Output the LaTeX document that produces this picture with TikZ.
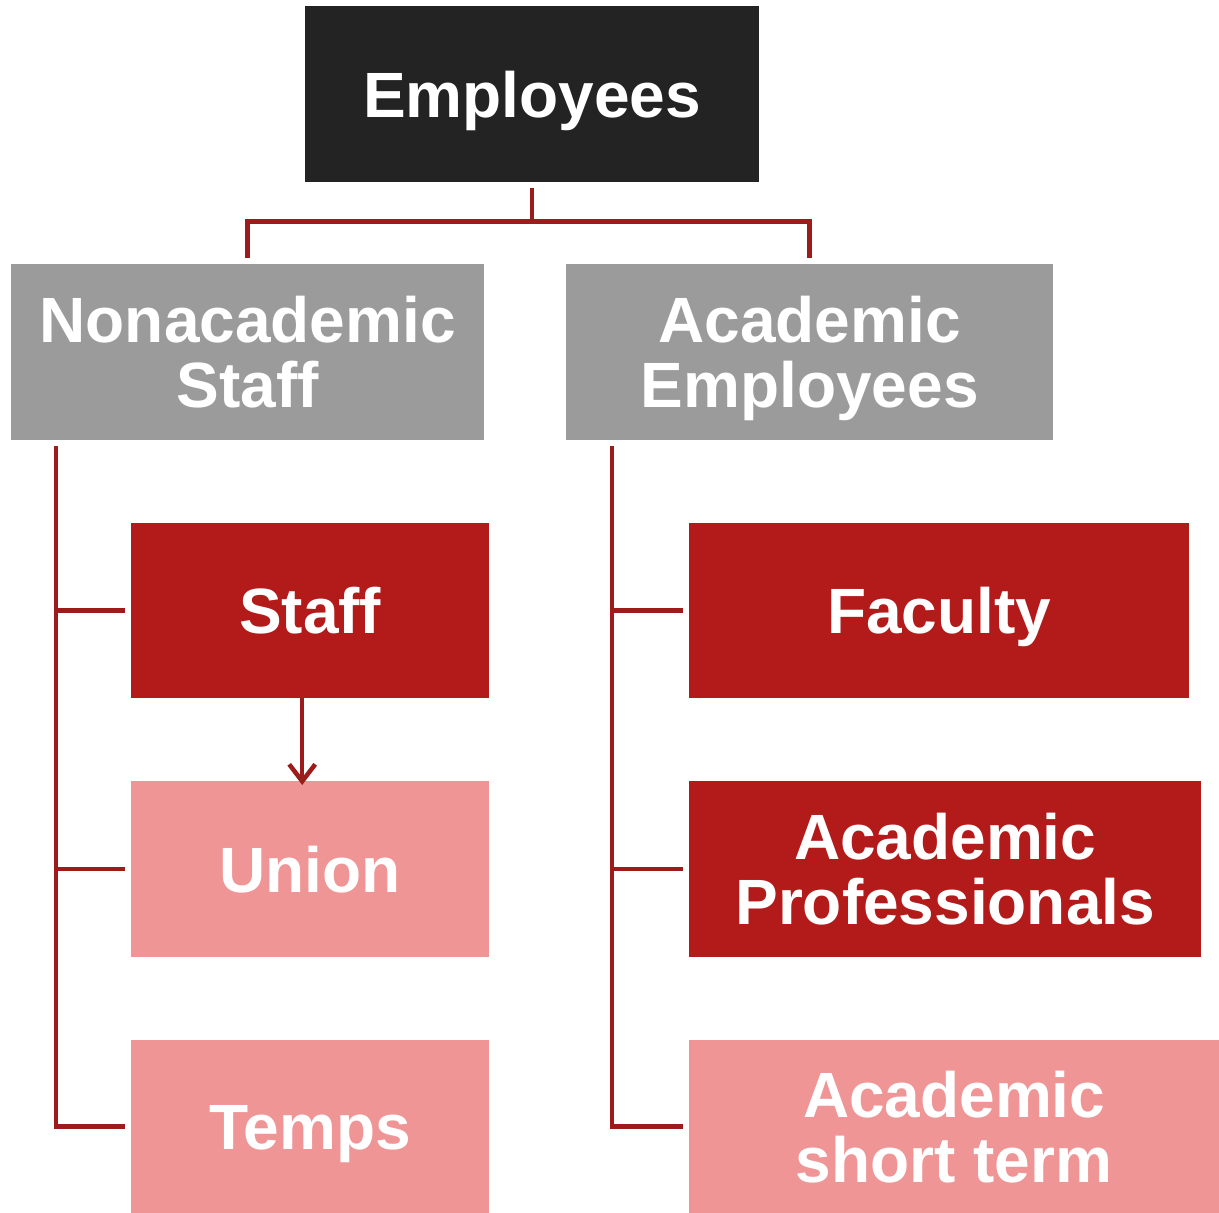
\documentclass[tikz,border=0pt]{standalone}
\usepackage{fontspec}
\setmainfont{Liberation Sans}
\usetikzlibrary{arrows.meta,positioning}
\definecolor{topblack}{HTML}{232323}
\definecolor{midgray}{HTML}{9B9B9B}
\definecolor{darkred}{HTML}{B31B1B}
\definecolor{lightred}{HTML}{F09596}
\definecolor{linkred}{HTML}{9E1B1B}
\begin{document}
\begin{tikzpicture}[x=1pt, y=-1pt, line join=miter, >={Straight Barb[length=17pt, width=26pt]}]
  \tikzset{box/.style={anchor=north west, inner sep=0pt, text=white, align=center,
      font=\fontsize{64}{65}\selectfont\bfseries, text height=46pt, text depth=0pt},
    twolines/.style={text height=111pt},
    link/.style={draw=linkred, line width=4.5pt}}
  \useasboundingbox (0,0) rectangle (1219,1213);
  % boxes
  \node[box, fill=topblack, minimum width=454, minimum height=176] (emp) at (305,6) {Employees};
  \node[box, twolines, fill=midgray, minimum width=473, minimum height=176] (nonac) at (11,264) {Nonacademic\\Staff};
  \node[box, twolines, fill=midgray, minimum width=487, minimum height=176] (acad) at (566,264) {Academic\\Employees};
  \node[box, fill=darkred, minimum width=358, minimum height=175] (staff) at (131,523) {Staff};
  \node[box, fill=lightred, minimum width=358, minimum height=176] (union) at (131,781) {Union};
  \node[box, fill=lightred, minimum width=358, minimum height=173] (temps) at (131,1040) {Temps};
  \node[box, fill=darkred, minimum width=500, minimum height=175] (fac) at (689,523) {Faculty};
  \node[box, twolines, fill=darkred, minimum width=512, minimum height=176] (prof) at (689,781) {Academic\\Professionals};
  \node[box, twolines, fill=lightred, minimum width=530, minimum height=173] (short) at (689,1040) {Academic\\short term};
  % top bus
  \draw[link] ([yshift=-6pt]emp.south) -- ++(0,33) coordinate (bus);
  \draw[link] ([yshift=6pt]nonac.north) |- (bus) -| ([yshift=6pt]acad.north);
  % left tree
  \draw[link] ([xshift=-6pt]temps.west) -| ([xshift=45pt, yshift=-6pt]nonac.south west);
  \draw[link] ([xshift=-6pt]staff.west) -- ++(-69,0);
  \draw[link] ([xshift=-6pt]union.west) -- ++(-69,0);
  \draw[link, ->] ([xshift=-8pt]staff.south) -- ([xshift=-8pt, yshift=-4pt]union.north);
  % right tree
  \draw[link] ([xshift=-6pt]short.west) -| ([xshift=46pt, yshift=-6pt]acad.south west);
  \draw[link] ([xshift=-6pt]fac.west) -- ++(-71,0);
  \draw[link] ([xshift=-6pt]prof.west) -- ++(-71,0);
\end{tikzpicture}
\end{document}
